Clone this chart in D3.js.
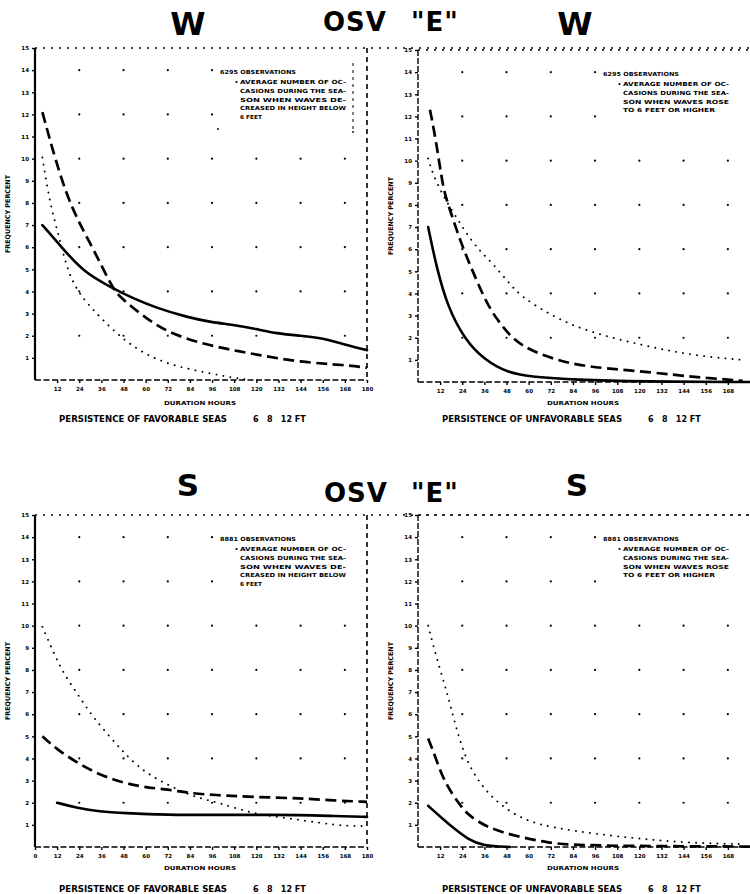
<!DOCTYPE html>
<html>
<head>
<meta charset="utf-8">
<script src="https://cdnjs.cloudflare.com/ajax/libs/d3/7.8.5/d3.min.js"></script>
<style>
body { margin: 0; background: #fff; }
svg { display: block; }
text { font-family: "DejaVu Sans", sans-serif; font-weight: bold; fill: #000; }
</style>
</head>
<body>
<div id="chart"></div>
<script>
const width = 750;
const height = 894;

// axis values
const hourTicks = [12, 24, 36, 48, 60, 72, 84, 96, 108, 120, 132, 144, 156, 168, 180];
const hourTicksWithZero = [0, 12, 24, 36, 48, 60, 72, 84, 96, 108, 120, 132, 144, 156, 168, 180];
const percentTicks = [1, 2, 3, 4, 5, 6, 7, 8, 9, 10, 11, 12, 13, 14, 15];
const gridHours = [24, 48, 72, 96, 120, 144, 168];
const gridPercent = [2, 4, 6, 8, 10, 12, 14];

// W - favorable seas  [hours, percent]
const wFavSolid = [[4, 7.0], [15, 5.95], [26, 4.9], [42, 4.15], [53, 3.7], [66, 3.25], [82, 2.85], [96, 2.6], [107, 2.5], [120, 2.3], [131, 2.1], [144, 2.0], [156, 1.9], [168, 1.6], [180, 1.35]];
const wFavDashed = [[4, 12.1], [17, 8.15], [30, 6.2], [42, 4.15], [46, 3.75], [59, 2.85], [72, 2.15], [90, 1.65], [107, 1.35], [120, 1.15], [144, 0.8], [168, 0.68], [180, 0.55]];
const wFavDotted = [[4, 10.05], [8, 8.0], [12.5, 6.65], [17, 5.1], [23, 3.95], [35, 2.85], [48, 1.8], [62, 1.05], [77, 0.6], [95, 0.3], [107, 0.1], [117, 0.0]];

// W - unfavorable seas
const wUnfSolid = [[5.5, 7.0], [10, 5.2], [16, 3.4], [25.5, 1.9], [36, 1.0], [49, 0.4], [62, 0.23], [85, 0.1], [121, 0.02], [180, 0]];
const wUnfDashed = [[6.5, 12.3], [10, 10.8], [13.5, 8.8], [16, 8.1], [24, 6.1], [31, 4.75], [38, 3.4], [47, 2.35], [56, 1.6], [74, 1.0], [92, 0.68], [114, 0.54], [139, 0.32], [157, 0.18], [176, 0.05]];
const wUnfDotted = [[5.5, 10.1], [8, 9.4], [13.5, 8.4], [25.5, 6.8], [32.5, 6.0], [40, 5.4], [49, 4.5], [56, 3.85], [70.5, 3.1], [85, 2.5], [103, 2.04], [121.5, 1.67], [139, 1.36], [157, 1.13], [176, 1.0]];

// S - favorable seas
const sFavSolid = [[12, 2.0], [23, 1.76], [35, 1.6], [48, 1.53], [72, 1.45], [97, 1.45], [118, 1.45], [144, 1.45], [162, 1.4], [180, 1.36]];
const sFavDashed = [[4, 5.0], [12, 4.4], [23, 3.8], [35, 3.26], [48, 2.9], [59, 2.7], [72, 2.6], [84, 2.43], [97, 2.35], [118, 2.26], [144, 2.2], [162, 2.1], [180, 2.04]];
const sFavDotted = [[4, 9.95], [10, 8.8], [15, 7.9], [24, 6.8], [31, 5.9], [48, 4.25], [59, 3.4], [72, 2.8], [86, 2.26], [100, 2.0], [118, 1.5], [137, 1.3], [155, 1.08], [169, 0.95], [180, 0.95]];

// S - unfavorable seas
const sUnfSolid = [[5.5, 1.86], [13, 1.3], [20, 0.8], [27, 0.36], [35, 0.05], [50, 0]];
const sUnfDashed = [[5.5, 4.9], [8, 4.4], [13, 3.2], [18.4, 2.4], [24.4, 1.72], [28, 1.4], [38, 0.86], [52.5, 0.5], [70.5, 0.18], [89, 0.05], [180, 0.02]];
const sUnfDotted = [[5.5, 10], [8, 9.2], [12, 8.0], [16, 6.9], [19, 5.9], [25.5, 4.0], [33.5, 2.85], [43.5, 1.95], [58, 1.18], [74, 0.86], [96, 0.59], [121.5, 0.36], [148.5, 0.18], [176, 0.13]];

// legend / caption texts
const favLegend = ["AVERAGE NUMBER OF OC-", "CASIONS DURING THE SEA-", "SON WHEN WAVES DE-", "CREASED IN HEIGHT BELOW", "6 FEET"];
const unfLegend = ["AVERAGE NUMBER OF OC-", "CASIONS DURING THE SEA-", "SON WHEN WAVES ROSE", "TO 6 FEET OR HIGHER"];

const svg = d3.select("#chart")
            .append("svg")
            .attr("width", width)
            .attr("height", height)

svg.append("rect").attr("width", width).attr("height", height).attr("fill", "#fff")

const panels = [
    { left: 35, top: 48, bottom: 380, ticks: hourTicks, solidAxis: true,
      series: [wFavDotted, wFavDashed, wFavSolid], obs: "6295 OBSERVATIONS", legend: favLegend, bracket: true,
      caption: "PERSISTENCE OF FAVORABLE SEAS", capW: 168, capY: 42, durY: 25 },
    { left: 418, top: 50, bottom: 382, ticks: hourTicks, solidAxis: false,
      series: [wUnfDotted, wUnfDashed, wUnfSolid], obs: "6295 OBSERVATIONS", legend: unfLegend, bracket: false,
      caption: "PERSISTENCE OF UNFAVORABLE SEAS", capW: 180, capY: 40, durY: 23 },
    { left: 35, top: 515, bottom: 847, ticks: hourTicksWithZero, solidAxis: true,
      series: [sFavDotted, sFavDashed, sFavSolid], obs: "8881 OBSERVATIONS", legend: favLegend, bracket: false,
      caption: "PERSISTENCE OF FAVORABLE SEAS", capW: 168, capY: 45, durY: 23 },
    { left: 418, top: 515, bottom: 847, ticks: hourTicks, solidAxis: false,
      series: [sUnfDotted, sUnfDashed, sUnfSolid], obs: "8881 OBSERVATIONS", legend: unfLegend, bracket: false,
      caption: "PERSISTENCE OF UNFAVORABLE SEAS", capW: 180, capY: 45, durY: 23 }
]

const lineStyles = [
    { w: 1.9, dash: "0.1,7", cap: "round" },     // dotted
    { w: 2.7, dash: "11,5.5", cap: "butt" },     // dashed
    { w: 2.6, dash: null, cap: "round" }          // solid
]

function drawPanel(p) {
    const g = svg.append("g")
    const x = d3.scaleLinear().domain([0, 180]).range([p.left, p.left + 332])
    const y = d3.scaleLinear().domain([0, 15]).range([p.bottom, p.top])
    const right = Math.min(x(180), width)

    // grid dots
    const pts = []
    gridHours.forEach(h => gridPercent.forEach(v => {
        if (x(h) > p.left + 180 && y(v) < p.top + 86) return
        pts.push([h, v])
    }))
    g.selectAll(".gd").data(pts).join("circle")
        .attr("cx", d => x(d[0])).attr("cy", d => y(d[1]))
        .attr("r", 1.1).attr("fill", "#000")

    // frame
    g.append("line").attr("x1", p.left).attr("x2", width).attr("y1", p.top).attr("y2", p.top)
        .attr("stroke", "#000").attr("stroke-width", 1.6).attr("stroke-dasharray", "2,6")
    if (x(180) < width - 2) {
        g.append("line").attr("x1", right).attr("x2", right).attr("y1", p.top).attr("y2", p.bottom)
            .attr("stroke", "#000").attr("stroke-width", 1.6).attr("stroke-dasharray", "5,4")
    }
    g.append("line").attr("x1", p.left).attr("x2", right).attr("y1", p.bottom).attr("y2", p.bottom)
        .attr("stroke", "#000").attr("stroke-width", 1.6).attr("stroke-dasharray", "6,2.5")
    g.append("line").attr("x1", p.left).attr("x2", p.left).attr("y1", p.top).attr("y2", p.bottom)
        .attr("stroke", "#000").attr("stroke-width", p.solidAxis ? 2.2 : 1.4)
        .attr("stroke-dasharray", p.solidAxis ? null : "6,2")

    // axes
    const xAxis = d3.axisBottom(x)
        .tickValues(p.ticks.filter(t => x(t) < width - 8))
        .tickSize(3).tickPadding(4).tickFormat(d3.format("d"))
    const xg = g.append("g").attr("transform", `translate(0,${p.bottom})`).call(xAxis)
    xg.select(".domain").remove()
    xg.selectAll("line").attr("stroke", "#000").attr("stroke-width", 1.4)
    xg.selectAll("text").attr("font-size", 5.5).attr("font-family", "DejaVu Sans").attr("font-weight", "bold")

    const yAxis = d3.axisLeft(y).tickValues(percentTicks).tickSize(3).tickPadding(3).tickFormat(d3.format("d"))
    const yg = g.append("g").attr("transform", `translate(${p.left},0)`).call(yAxis)
    yg.select(".domain").remove()
    yg.selectAll("line").attr("stroke", "#000").attr("stroke-width", 1.4)
    yg.selectAll("text").attr("font-size", 5.5).attr("font-family", "DejaVu Sans").attr("font-weight", "bold")

    g.append("text")
        .attr("transform", `translate(${p.left - 25},${(p.top + p.bottom) / 2}) rotate(-90)`)
        .attr("text-anchor", "middle").attr("font-size", 6.5)
        .attr("textLength", 78).attr("lengthAdjust", "spacingAndGlyphs")
        .text("FREQUENCY PERCENT")

    // curves
    const line = d3.line()
        .x(d => x(d[0]))
        .y(d => y(d[1]))
        .curve(d3.curveBasis)

    g.selectAll(".curve").data(p.series).join("path")
        .attr("d", line)
        .attr("fill", "none")
        .attr("stroke", "#000")
        .attr("stroke-width", (d, i) => lineStyles[i].w)
        .attr("stroke-dasharray", (d, i) => lineStyles[i].dash)
        .attr("stroke-linecap", (d, i) => lineStyles[i].cap)
        .attr("stroke-linejoin", "round")

    // legend
    const lx = p.left + 185
    const tx = p.left + 205
    const rx = p.left + 311
    g.append("text").attr("x", lx).attr("y", p.top + 26).attr("font-size", 5.6)
        .attr("textLength", 76).attr("lengthAdjust", "spacingAndGlyphs").text(p.obs)
    g.append("circle").attr("cx", tx - 3.5).attr("cy", p.top + 34).attr("r", 1.1).attr("fill", "#000")
    p.legend.forEach((t, i) => {
        const last = i === p.legend.length - 1 && p.legend === favLegend
        g.append("text").attr("x", tx).attr("y", p.top + 36 + i * 8.8).attr("font-size", 5.6)
            .attr("textLength", last ? 22 : (i === p.legend.length - 1 ? rx - tx - 14 : rx - tx))
            .attr("lengthAdjust", "spacingAndGlyphs")
            .text(t)
    })
    if (p.bracket) {
        g.append("line").attr("x1", p.left + 318).attr("x2", p.left + 318)
            .attr("y1", p.top + 15).attr("y2", p.top + 82)
            .attr("stroke", "#000").attr("stroke-width", 1).attr("stroke-dasharray", "3,4")
        g.append("circle").attr("cx", p.left + 183).attr("cy", p.top + 81).attr("r", 0.9)
        g.append("circle").attr("cx", p.left + 318).attr("cy", p.top + 84).attr("r", 0.9)
    }

    // captions
    g.append("text").attr("x", p.left + 165).attr("y", p.bottom + p.durY)
        .attr("text-anchor", "middle").attr("font-size", 5.5)
        .attr("textLength", 72).attr("lengthAdjust", "spacingAndGlyphs")
        .text("DURATION HOURS")
    const capX = p.left + 24
    g.append("text").attr("x", capX).attr("y", p.bottom + p.capY).attr("font-size", 8)
        .attr("textLength", p.capW).attr("lengthAdjust", "spacingAndGlyphs")
        .text(p.caption)
    g.append("text").attr("x", capX + p.capW + 26).attr("y", p.bottom + p.capY).attr("font-size", 8)
        .attr("xml:space", "preserve")
        .text("6   8   12 FT")
}

panels.forEach(drawPanel)

// titles
const titles = [
    { t: "W", x: 188, y: 35, s: 32, a: "middle" },
    { t: "OSV", x: 323, y: 31, s: 26, a: "start" },
    { t: "\"E\"", x: 411, y: 31, s: 26, a: "start" },
    { t: "W", x: 575, y: 35, s: 32, a: "middle" },
    { t: "S", x: 188, y: 496, s: 31, a: "middle" },
    { t: "OSV", x: 324, y: 502, s: 26, a: "start" },
    { t: "\"E\"", x: 411, y: 502, s: 26, a: "start" },
    { t: "S", x: 577, y: 496, s: 31, a: "middle" }
]
svg.selectAll(".title").data(titles).join("text")
    .attr("x", d => d.x).attr("y", d => d.y)
    .attr("font-size", d => d.s).attr("text-anchor", d => d.a)
    .attr("letter-spacing", d => d.t.length > 1 ? 1 : 0)
    .text(d => d.t)
</script>
</body>
</html>
